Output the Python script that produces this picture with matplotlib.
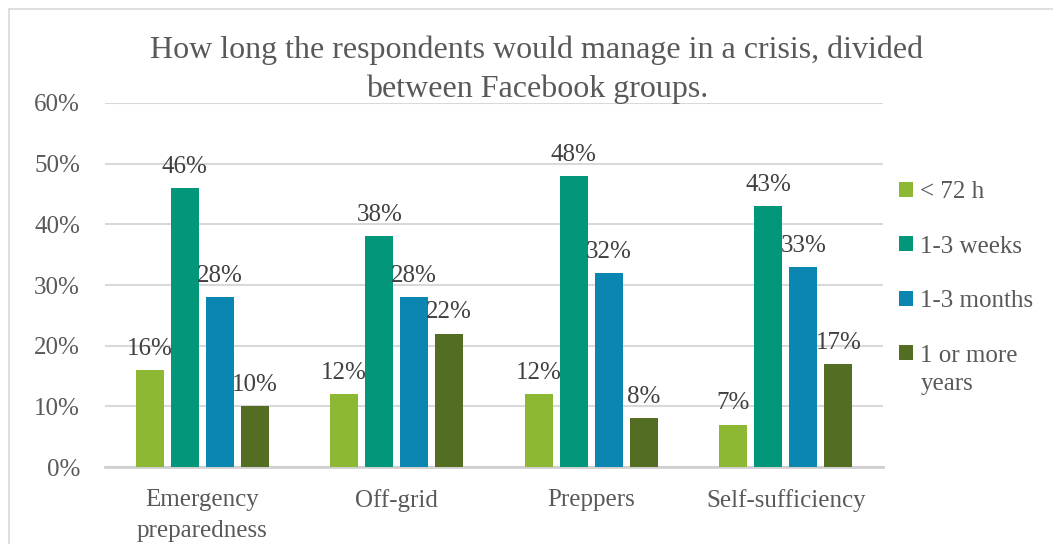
import matplotlib
matplotlib.use("Agg")
import matplotlib.pyplot as plt
import numpy as np
from matplotlib.patches import Rectangle

categories = ["Emergency\npreparedness", "Off-grid", "Preppers", "Self-sufficiency"]
series_names = ["< 72 h", "1-3 weeks", "1-3 months", "1 or more"]
extra_line = "years"
lt72h = [16, 12, 12, 7]
weeks = [46, 38, 48, 43]
months = [28, 28, 32, 33]
years = [10, 22, 8, 17]
colors = ["#8CB834", "#02967A", "#0A86B0", "#536E22"]
yticks = [0, 10, 20, 30, 40, 50, 60]

plt.rcParams['font.family'] = ['Liberation Serif', 'DejaVu Serif']

fig = plt.figure(figsize=(10.53, 5.44), dpi=100)
ax = fig.add_axes([0.0997, 0.1415, 0.7389, 0.6692])

x = np.arange(len(categories))
series = [lt72h, weeks, months, years]
pitch = 0.18
width = 0.145
for i, (vals, name, c) in enumerate(zip(series, series_names, colors)):
    pos = x + (i - 1.5) * pitch
    bars = ax.bar(pos, vals, width=width, color=c, label=name, zorder=3)
    for b, v in zip(bars, vals):
        ax.annotate(f"{v}%", (b.get_x() + b.get_width() / 2, v),
                    xytext=(0, 11), textcoords="offset points",
                    ha="center", va="baseline", fontsize=18, color="#404040", zorder=4)

ax.set_xlim(-0.5, 3.5)
ax.set_ylim(0, 60)
ax.set_yticks(yticks)
ax.set_yticklabels([f"{t}%" for t in yticks], fontsize=18, color="#595959")
ax.set_xticks(x)
ax.set_xticklabels(categories, fontsize=18, color="#595959", linespacing=1.5)
ax.tick_params(axis='both', length=0)
ax.tick_params(axis='x', pad=16)
ax.tick_params(axis='y', pad=18)
ax.grid(axis='y', color="#D9D9D9", linewidth=1.5, zorder=0)
for s in ["top", "right", "left"]:
    ax.spines[s].set_visible(False)
ax.spines["bottom"].set_color("#D0D0D0")
ax.spines["bottom"].set_linewidth(2)

fig.text(0.51, 0.934, "How long the respondents would manage in a crisis, divided\nbetween Facebook groups.",
         ha="center", va="top", fontsize=23, color="#595959", linespacing=1.42)

leg = ax.legend(loc="upper left", bbox_to_anchor=(0.995, 0.84), frameon=False,
                fontsize=18, labelcolor="#595959", handlelength=0.55, handleheight=0.55,
                handletextpad=0.3, labelspacing=1.3, borderpad=0.3)

fig.canvas.draw()
last = leg.get_texts()[-1]
bb = last.get_window_extent()
fig.text(bb.x0, bb.y0 - 6, extra_line, transform=None, ha="left", va="top",
         fontsize=18, color="#595959")

fig.patches.append(Rectangle((9 / 1053, -0.1), 1.2, 1 - 9 / 544 + 0.1, transform=fig.transFigure,
                             fill=False, edgecolor="#D9D9D9", linewidth=1.2))

fig.savefig("out.png", dpi=100)
